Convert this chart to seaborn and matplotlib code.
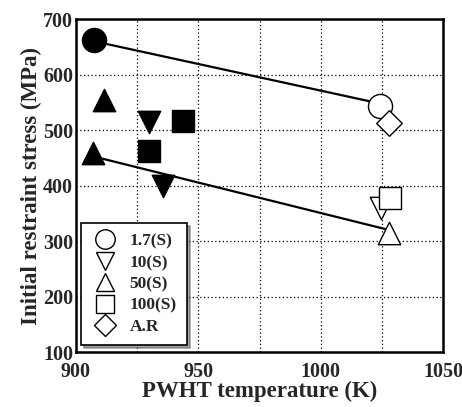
import matplotlib
matplotlib.use("Agg")
import matplotlib.pyplot as plt
import seaborn as sns
import pandas as pd
from matplotlib.lines import Line2D
from matplotlib.ticker import MultipleLocator

sns.set_style("white")
plt.rcParams['font.family'] = ['Liberation Serif', 'DejaVu Serif']
plt.rcParams['font.weight'] = 'bold'

conditions = ["1.7(S)", "10(S)", "50(S)", "100(S)", "A.R"]
markers = ["o", "v", "^", "s", "D"]

temp_17 = [907.5, 1024.1]
stress_17 = [662, 544]
filled_17 = [True, False]

temp_10 = [929.8, 935.4, 1024.5]
stress_10 = [515, 399, 359]
filled_10 = [True, True, False]

temp_50 = [911.4, 907.1, 1027.9]
stress_50 = [554, 458, 314]
filled_50 = [True, True, False]

temp_100 = [943.8, 929.8, 1028.2]
stress_100 = [517, 463, 378]
filled_100 = [True, True, False]

temp_ar = [1027.9]
stress_ar = [512]
filled_ar = [False]

upper_line_t = [907.5, 1024.1]
upper_line_s = [660, 548]
lower_line_t = [908.5, 1027.9]
lower_line_s = [451, 320]

series = [
    ("1.7(S)", temp_17, stress_17, filled_17),
    ("10(S)", temp_10, stress_10, filled_10),
    ("50(S)", temp_50, stress_50, filled_50),
    ("100(S)", temp_100, stress_100, filled_100),
    ("A.R", temp_ar, stress_ar, filled_ar),
]
rows = []
for name, t, s, f in series:
    for ti, si, fi in zip(t, s, f):
        rows.append({"cond": name, "T": ti, "S": si, "filled": fi})
df = pd.DataFrame(rows)

fig = plt.figure(figsize=(4.62, 4.07), dpi=100)
ax = fig.add_axes([0.1645, 0.135, 0.7945, 0.818])

sns.lineplot(x=upper_line_t, y=upper_line_s, ax=ax, color="black", lw=1.6, zorder=2)
sns.lineplot(x=lower_line_t, y=lower_line_s, ax=ax, color="black", lw=1.6, zorder=2)

msizes = {"o": 300, "v": 260, "^": 260, "s": 240, "D": 170}
for cond, mk in zip(conditions, markers):
    sub = df[df["cond"] == cond]
    fsub = sub[sub["filled"]]
    osub = sub[~sub["filled"]]
    if len(fsub):
        sns.scatterplot(data=fsub, x="T", y="S", marker=mk, s=msizes[mk],
                        color="black", edgecolor="black", linewidth=1.0,
                        ax=ax, zorder=4, legend=False)
    if len(osub):
        sns.scatterplot(data=osub, x="T", y="S", marker=mk, s=msizes[mk],
                        facecolor="white", edgecolor="black", linewidth=1.0,
                        ax=ax, zorder=4, legend=False)

ax.set_xlim(900, 1050)
ax.set_ylim(100, 700)
ax.xaxis.set_major_locator(MultipleLocator(50))
ax.xaxis.set_minor_locator(MultipleLocator(25))
ax.yaxis.set_major_locator(MultipleLocator(100))
ax.grid(which="both", color="black", linestyle=(0, (1, 2)), linewidth=0.9)
ax.set_axisbelow(True)
ax.tick_params(which="both", direction="in", length=4, width=1, top=False, right=False,
               labelsize=14.5)
ax.tick_params(axis="y", pad=2)
ax.tick_params(axis="x", pad=7)
for lbl in ax.get_xticklabels() + ax.get_yticklabels():
    lbl.set_fontweight("bold")
for sp in ax.spines.values():
    sp.set_linewidth(1.8)
    sp.set_color("black")

ax.set_xlabel("PWHT temperature (K)", fontsize=16.5, fontweight="bold", labelpad=-1)
ax.set_ylabel("Initial restraint stress (MPa)", fontsize=16.5, fontweight="bold", labelpad=1)

handles = [Line2D([], [], marker=mk, linestyle="none", markersize={"o": 14, "v": 13, "^": 13, "s": 13, "D": 11}[mk],
                  markerfacecolor="white", markeredgecolor="black", markeredgewidth=1.0)
           for mk in markers]
leg = ax.legend(handles, conditions, loc="lower left", bbox_to_anchor=(0.014, 0.02),
                borderaxespad=0,
                frameon=True, fancybox=False, shadow=True, framealpha=1,
                prop={"family": "Liberation Serif", "weight": "bold", "size": 12.5},
                handlelength=1.6, handletextpad=0.6, labelspacing=0.3, borderpad=0.6)
leg.get_frame().set_edgecolor("black")
leg.get_frame().set_linewidth(1.2)
leg.set_zorder(5)

fig.savefig("out.png", dpi=100)
